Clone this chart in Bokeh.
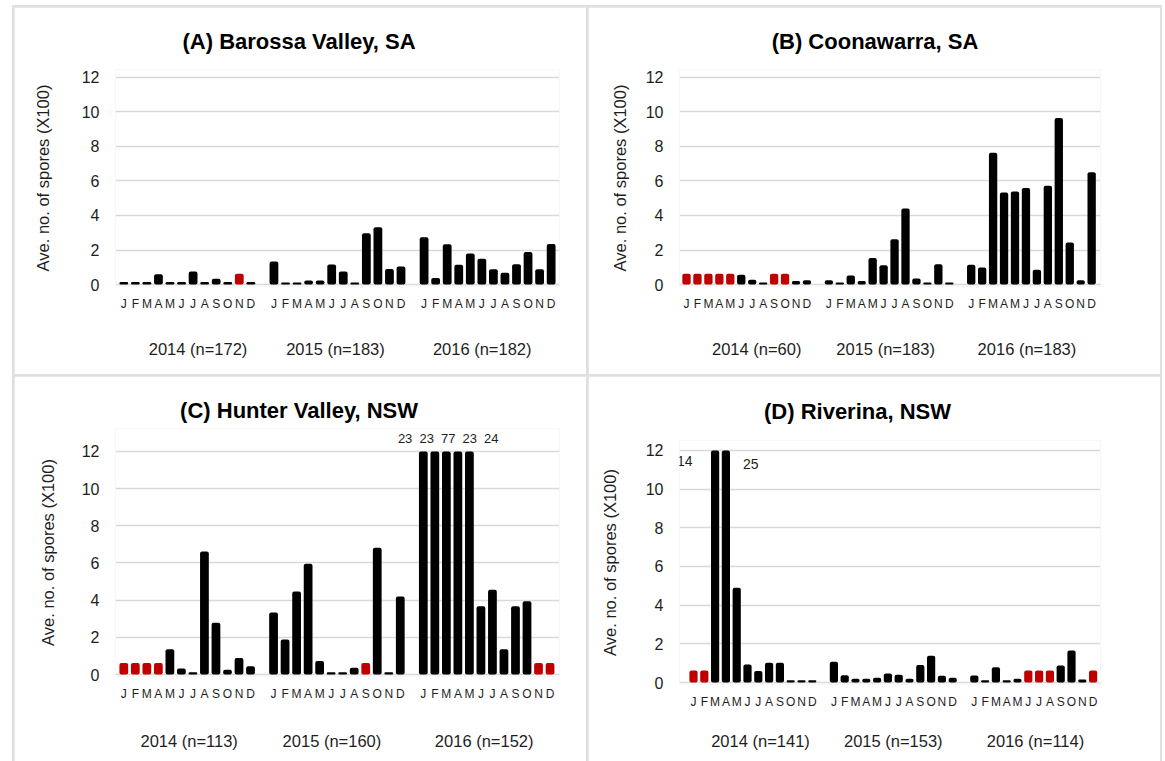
import numpy as np
from bokeh.plotting import figure
from bokeh.models import (FixedTicker, LinearAxis, Range1d, ColumnDataSource, Title)
from bokeh.layouts import row, column
from bokeh.embed import file_html
from bokeh.resources import INLINE
from bokeh.core.properties import value

# ---- data: average number of spores (x100) per month; None = no sampling ----
MONTHS = ["J", "F", "M", "A", "M", "J", "J", "A", "S", "O", "N", "D"]
YEARS = ["2014", "2015", "2016"]

barossa_2014 = [0.15, 0.15, 0.15, 0.6, 0.15, 0.15, 0.75, 0.15, 0.33, 0.15, None, 0.15]
barossa_2015 = [1.33, 0.12, 0.12, 0.23, 0.23, 1.16, 0.75, 0.12, 2.97, 3.32, 0.9, 1.04]
barossa_2016 = [2.74, 0.37, 2.33, 1.14, 1.8, 1.5, 0.89, 0.68, 1.18, 1.89, 0.89, 2.35]
barossa_n = [172, 183, 182]

coonawarra_2014 = [None, None, None, None, None, 0.56, 0.27, 0.12, None, None, 0.2, 0.25]
coonawarra_2015 = [0.25, 0.12, 0.52, 0.2, 1.54, 1.12, 2.63, 4.4, 0.35, 0.12, 1.18, 0.12]
coonawarra_2016 = [1.15, 0.98, 7.64, 5.33, 5.39, 5.6, 0.85, 5.73, 9.65, 2.43, 0.25, 6.5]
coonawarra_n = [60, 183, 183]

hunter_2014 = [None, None, None, None, 1.36, 0.32, 0.12, 6.62, 2.79, 0.25, 0.89, 0.45]
hunter_2015 = [3.33, 1.88, 4.47, 5.96, 0.73, 0.12, 0.12, 0.36, None, 6.82, 0.12, 4.2]
hunter_2016 = [23, 23, 77, 23, 24, 3.67, 4.56, 1.36, 3.67, 3.94, None, None]
hunter_n = [113, 160, 152]

riverina_2014 = [None, None, 14, 25, 4.9, 0.93, 0.59, 1.02, 1.02, 0.12, 0.12, 0.12]
riverina_2015 = [1.07, 0.38, 0.2, 0.2, 0.25, 0.46, 0.4, 0.2, 0.91, 1.39, 0.35, 0.25]
riverina_2016 = [0.36, 0.12, 0.79, 0.12, 0.2, None, None, None, 0.88, 1.65, 0.15, None]
riverina_n = [141, 153, 114]

Y_CAP = 12          # axis maximum; taller bars are cut here and labelled
MISSING_H = 0.62    # height of the red "not sampled" marker
Y_TICKS = [0, 2, 4, 6, 8, 10, 12]

# ---- styling ----
FONT = "Liberation Sans"
BLACK = "#000000"
RED = "#c00000"
GRID = "#d9d9d9"
RULE = "#e0e0e0"
TEXT = "#1e1e1e"
BAR_W = 0.76
BAR_RADIUS = 2
TITLE_SIZE = 22

# Arial/Liberation Sans Bold advance widths (1/1000 em) for centring headings
BOLD_W = {" ": 278, "(": 333, ")": 333, ",": 278, "A": 722, "B": 722, "C": 722, "D": 722,
          "H": 722, "N": 722, "R": 722, "S": 667, "V": 667, "W": 944, "a": 556, "e": 556,
          "i": 278, "l": 278, "n": 611, "o": 611, "r": 389, "s": 556, "t": 333, "u": 611,
          "v": 556, "w": 778, "y": 556}


def bold_width(text, size):
    return sum(BOLD_W.get(ch, 600) for ch in text) * size / 1000.0


# page-pixel layout of each panel
PANELS = [
    dict(title="(A) Barossa Valley, SA", series=[barossa_2014, barossa_2015, barossa_2016], n=barossa_n,
         cell=(14, 7, 572, 367), fl=115, fr=559, x0=123.3, slot=11.55, y0=284, y12=76.7, top_pad=8,
         title_xy=(300, 40.5), ylab_standoff=27, year_dx=[10.7, -2, -5.4], year_standoff=26,
         cap_dx=[], cap_y=[], cap_size="13px"),
    dict(title="(B) Coonawarra, SA", series=[coonawarra_2014, coonawarra_2015, coonawarra_2016], n=coonawarra_n,
         cell=(588, 7, 572, 367), fl=679, fr=1100, x0=686, slot=10.95, y0=284, y12=76.7, top_pad=8,
         title_xy=(874.5, 40.5), ylab_standoff=14, year_dx=[10, -3.4, -4.5], year_standoff=26,
         cap_dx=[], cap_y=[], cap_size="13px"),
    dict(title="(C) Hunter Valley, NSW", series=[hunter_2014, hunter_2015, hunter_2016], n=hunter_n,
         cell=(14, 376, 572, 385), fl=115, fr=559, x0=123.3, slot=11.52, y0=674.3, y12=450.5, top_pad=23,
         title_xy=(300, 409), ylab_standoff=22, year_dx=[2, -5, -2.5], year_standoff=28,
         cap_dx=[-1.58, -0.71, 0.16, 1.03, 1.9], cap_y=[12.7] * 5, cap_size="13px"),
    dict(title="(D) Riverina, NSW", series=[riverina_2014, riverina_2015, riverina_2016], n=riverina_n,
         cell=(588, 376, 572, 385), fl=679, fr=1100, x0=693, slot=10.8, y0=682.3, y12=449.7, top_pad=10,
         title_xy=(857, 410.5), ylab_standoff=24, year_dx=[7.6, 0, 1.8], year_standoff=20,
         cap_dx=[-2.8, 2.3], cap_y=[11.43, 11.28], cap_size="14px"),
]


def bare_axis(ax):
    ax.axis_line_color = None
    ax.major_tick_line_color = None
    ax.minor_tick_line_color = None
    ax.major_tick_out = 0
    ax.major_tick_in = 0
    ax.minor_tick_out = 0
    ax.minor_tick_in = 0


def build_panel(cfg):
    cx, cy, cw, ch = cfg["cell"]
    fl, fr, y0, y12 = cfg["fl"], cfg["fr"], cfg["y0"], cfg["y12"]
    upx = (y0 - y12) / Y_CAP                 # pixels per data unit
    ft = y12 - cfg["top_pad"]                # frame top (page px)
    fb = y0 + 2                              # frame bottom (page px)
    y_lo = -(fb - y0) / upx
    y_hi = Y_CAP + (y12 - ft) / upx
    slot_px = cfg["slot"]
    x_lo = (fl - cfg["x0"]) / slot_px
    x_hi = (fr - cfg["x0"]) / slot_px

    p = figure(width=cw, height=ch, x_range=Range1d(x_lo, x_hi), y_range=Range1d(y_lo, y_hi),
               min_border_left=int(round(fl - cx)), min_border_right=int(round(cx + cw - fr)),
               min_border_top=int(round(ft - cy)), min_border_bottom=int(round(cy + ch - fb)),
               output_backend="svg", toolbar_location=None, tools="")
    p.outline_line_color = None
    p.background_fill_color = "white"
    p.border_fill_color = "white"

    # bars: 12 months per year, one empty slot between years
    xs, tops, colors, caps = [], [], [], []
    for k, vals in enumerate(cfg["series"]):
        for m, v in enumerate(vals):
            slot = k * 13 + m
            xs.append(slot)
            if v is None:
                tops.append(MISSING_H)
                colors.append(RED)
            else:
                tops.append(min(v, Y_CAP))
                colors.append(BLACK)
                if v > Y_CAP:
                    caps.append((slot, v))
    src = ColumnDataSource(dict(x=xs, top=tops, color=colors))
    p.vbar(x="x", top="top", bottom=0, width=BAR_W, fill_color="color", line_color=None,
           border_radius=BAR_RADIUS, source=src)

    # values of bars that run past the top of the axis
    if caps:
        lab = ColumnDataSource(dict(
            x=[s + dx for (s, _), dx in zip(caps, cfg["cap_dx"])],
            y=cfg["cap_y"][:len(caps)],
            t=[str(int(round(v))) for _, v in caps]))
        p.text(x="x", y="y", text="t", source=lab, text_align="center", text_baseline="middle",
               text_font=value(FONT), text_font_size=cfg["cap_size"], text_color=TEXT)

    # y axis and horizontal grid
    p.yaxis.ticker = FixedTicker(ticks=Y_TICKS)
    p.ygrid.ticker = FixedTicker(ticks=Y_TICKS)
    p.ygrid.grid_line_color = GRID
    p.ygrid.grid_line_width = 1.6
    p.xgrid.grid_line_color = None
    ya = p.yaxis[0]
    bare_axis(ya)
    ya.major_label_standoff = 16
    ya.major_label_text_font = FONT
    ya.major_label_text_font_size = "16px"
    ya.major_label_text_color = TEXT
    ya.axis_label = "Ave. no. of spores (X100)"
    ya.axis_label_text_font = FONT
    ya.axis_label_text_font_style = "normal"
    ya.axis_label_text_font_size = "16.5px"
    ya.axis_label_text_color = TEXT
    ya.axis_label_standoff = cfg["ylab_standoff"]

    # month letters under every bar
    slots = [k * 13 + m for k in range(3) for m in range(12)]
    xa = p.xaxis[0]
    bare_axis(xa)
    xa.ticker = FixedTicker(ticks=slots)
    xa.major_label_overrides = {s: MONTHS[s % 13] for s in slots}
    xa.major_label_standoff = 10
    xa.major_label_text_font = FONT
    xa.major_label_text_font_size = "12px"
    xa.major_label_text_color = TEXT

    # year captions with sample sizes
    year_ticks = [round(k * 13 + 5.5 + dx / slot_px, 3) for k, dx in enumerate(cfg["year_dx"])]
    yr = LinearAxis(ticker=FixedTicker(ticks=year_ticks),
                    major_label_overrides={t: f"{YEARS[k]} (n={cfg['n'][k]})" for k, t in enumerate(year_ticks)})
    bare_axis(yr)
    yr.major_label_standoff = cfg["year_standoff"]
    yr.major_label_text_font = FONT
    yr.major_label_text_font_size = "16.5px"
    yr.major_label_text_color = TEXT
    p.add_layout(yr, "below")

    # panel heading, centred on the panel
    tx, ty = cfg["title_xy"]
    t = cfg["title"]
    title_bottom = ty + (0.358 + 0.212) * TITLE_SIZE
    p.add_layout(Title(text=t, align="left", vertical_align="bottom",
                       offset=(tx - bold_width(t, TITLE_SIZE) / 2) - fl,
                       standoff=max(0, 2 * (ft - title_bottom)),
                       text_font=FONT, text_font_size=f"{TITLE_SIZE}px", text_font_style="bold",
                       text_color=BLACK), "above")
    return p


pa, pb, pc, pd = [build_panel(c) for c in PANELS]
left = column(pa, pc, spacing=2)
right = column(pb, pd, spacing=2)
page = row(left, right, spacing=2, margin=(5, 0, 0, 12),
           styles={"background-color": RULE, "padding": "2px 2px 0px 2px"})

open("out.html", "w").write(file_html(page, INLINE))
